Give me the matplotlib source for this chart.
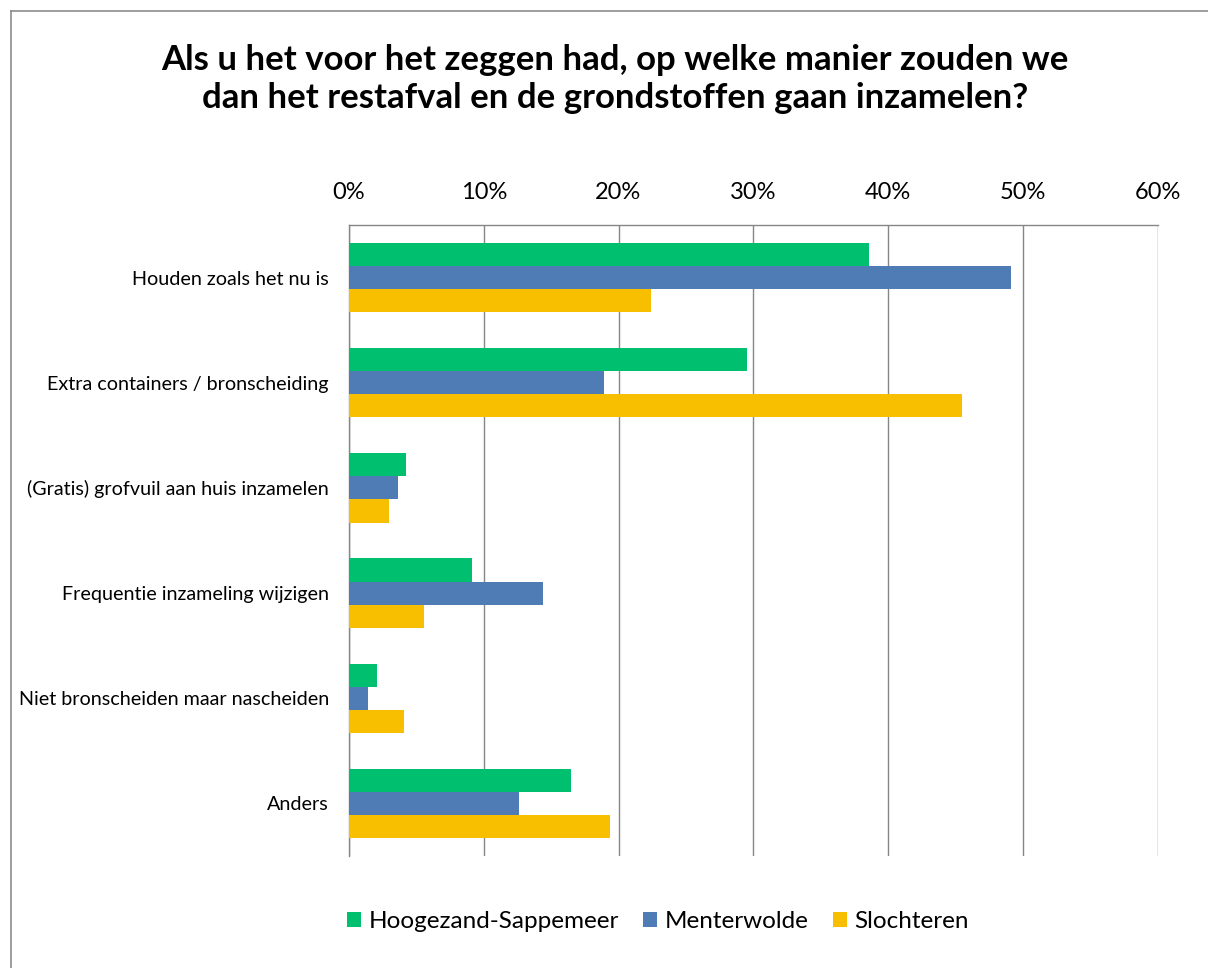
import matplotlib.pyplot as plt
import numpy as np
from matplotlib.lines import Line2D

plt.rcParams['font.family'] = ['Lato', 'DejaVu Sans']

categories = ['Houden zoals het nu is', 'Extra containers / bronscheiding',
              '(Gratis) grofvuil aan huis inzamelen', 'Frequentie inzameling wijzigen',
              'Niet bronscheiden maar nascheiden', 'Anders']
series = ['Hoogezand-Sappemeer', 'Menterwolde', 'Slochteren']
hoogezand = [38.6, 29.5, 4.2, 9.1, 2.1, 16.5]
menterwolde = [49.1, 18.9, 3.6, 14.4, 1.4, 12.6]
slochteren = [22.4, 45.5, 3.0, 5.6, 4.1, 19.4]
ticks = [0, 10, 20, 30, 40, 50, 60]
colors = ['#00C06F', '#4F7CB5', '#F8BF00']

fig = plt.figure(figsize=(12.08, 9.68), dpi=100)
ax = fig.add_axes([349 / 1208, 1 - 856 / 968, (1157.5 - 349) / 1208, (856 - 225) / 968])

y = np.arange(len(categories))
h = 0.22
for i, (vals, name) in enumerate(zip([hoogezand, menterwolde, slochteren], series)):
    ax.barh(y + (i - 1) * h, vals, height=h, color=colors[i], label=name, zorder=3)

ax.set_xlim(0, 60)
ax.set_ylim(len(categories) - 0.5, -0.5)
ax.set_xticks(ticks)
ax.set_xticklabels([f'{t}%' for t in ticks], fontsize=17)
ax.xaxis.tick_top()
ax.tick_params(axis='x', length=0, pad=15.5)
ax.set_yticks(y)
ax.set_yticklabels(categories, fontsize=14.2)
ax.tick_params(axis='y', length=0, pad=14.5)
ax.grid(axis='x', color='#868686', lw=1.0, zorder=1)
for s in ['right', 'bottom']:
    ax.spines[s].set_visible(False)
for s in ['left', 'top']:
    ax.spines[s].set_color('#868686')
    ax.spines[s].set_linewidth(1.0)

fig.text(615 / 1208, 1 - 79 / 968,
         'Als u het voor het zeggen had, op welke manier zouden we\n'
         'dan het restafval en de grondstoffen gaan inzamelen?',
         ha='center', va='center', fontsize=25, fontweight='bold', linespacing=1.2)

ax.legend(loc='center', bbox_to_anchor=(658 / 1208, 1 - 922 / 968),
          bbox_transform=fig.transFigure, ncol=3, frameon=False, fontsize=17.5,
          handlelength=0.58, handleheight=0.58, handletextpad=0.3, columnspacing=1.0)

fig.add_artist(Line2D([10.5 / 1208, 10.5 / 1208], [0, 1 - 11 / 968], color='#8c8c8c', lw=1.2))
fig.add_artist(Line2D([10.5 / 1208, 1], [1 - 11 / 968, 1 - 11 / 968], color='#8c8c8c', lw=1.2))

fig.savefig('out.png', dpi=100)
